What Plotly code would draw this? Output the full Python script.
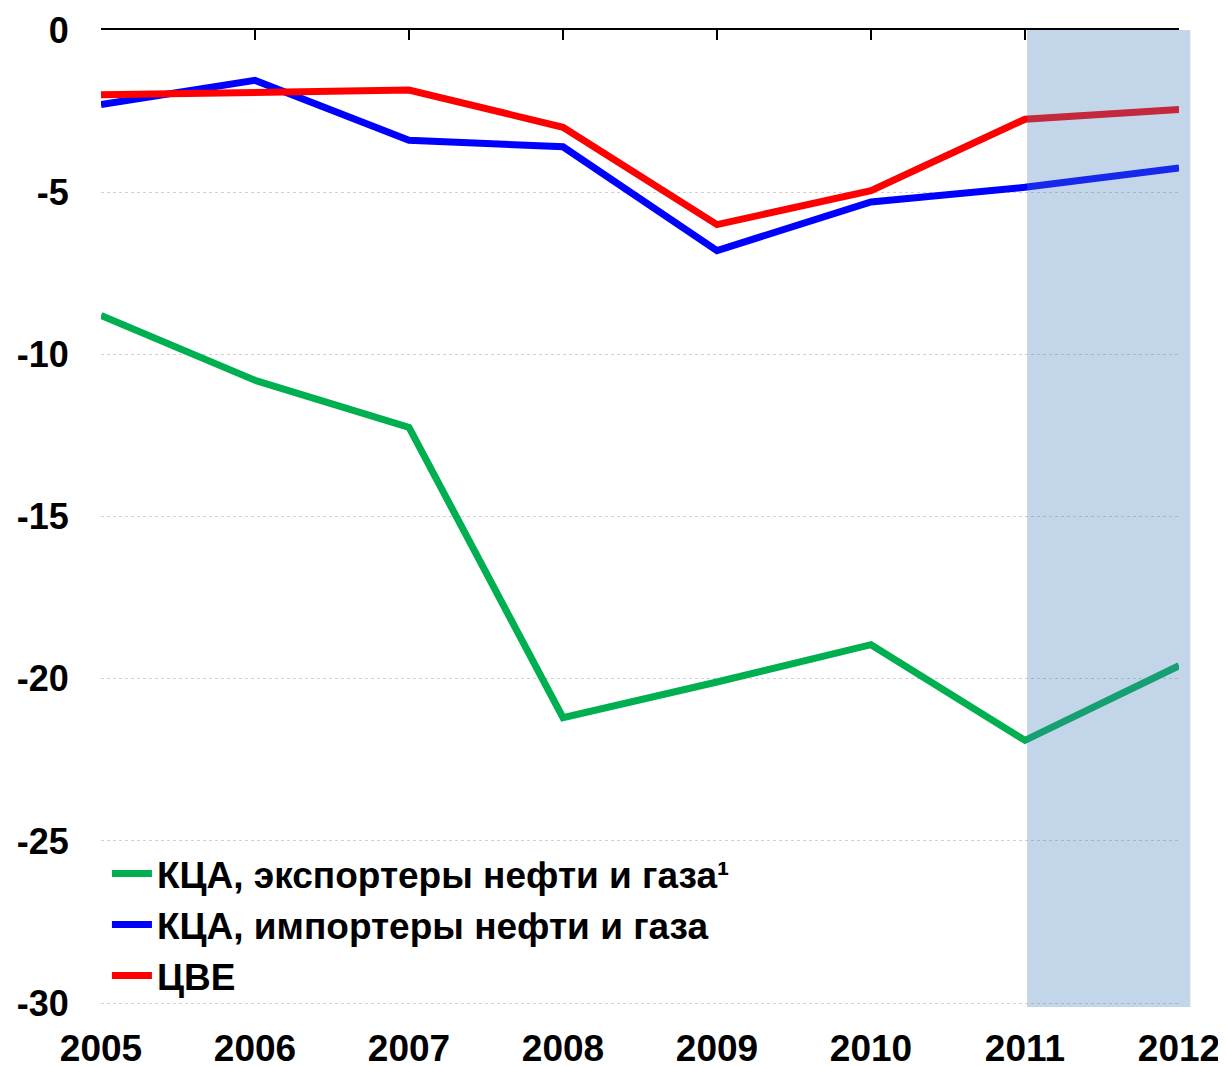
import plotly.graph_objects as go

years = [2005, 2006, 2007, 2008, 2009, 2010, 2011, 2012]
exporters = [-8.8, -10.8, -12.25, -21.2, -20.1, -18.95, -21.9, -19.6]
importers = [-2.3, -1.55, -3.4, -3.6, -6.8, -5.3, -4.85, -4.25]
cee = [-2.0, -1.9, -1.85, -3.0, -6.0, -4.95, -2.75, -2.45]

names = ["КЦА, экспортеры нефти и газа¹", "КЦА, импортеры нефти и газа", "ЦВЕ"]
colors = ["#00b050", "#0000ff", "#ff0000"]
y_ticks = [0, -5, -10, -15, -20, -25, -30]
shade_start = 2011

FONT = "Liberation Sans, Arial, sans-serif"

fig = go.Figure()
for vals, name, col in zip([exporters, importers, cee], names, colors):
    fig.add_trace(go.Scatter(x=years, y=vals, mode="lines", name=name,
                             line=dict(color=col, width=7)))

x0 = (shade_start - years[0]) / (years[-1] - years[0])
fig.add_shape(type="rect", xref="paper", yref="y", x0=x0 + 0.002, x1=1.0105,
              y0=0, y1=-30.12, fillcolor="rgb(68,125,187)", opacity=0.32,
              line=dict(width=0), layer="above")

fig.update_layout(
    width=1218, height=1058,
    margin=dict(l=93, r=47, t=22, b=59),
    plot_bgcolor="white", paper_bgcolor="white",
    font=dict(family=FONT, size=34, color="black"),
    showlegend=True,
    legend=dict(x=0.0055, y=0.168, xanchor="left", yanchor="top",
                bgcolor="rgba(0,0,0,0)", tracegroupgap=0,
                font=dict(family=FONT, size=37, color="black", weight="bold"),
                itemwidth=40),
    xaxis=dict(range=[years[0], years[-1]], tickvals=years,
               ticktext=[str(y) for y in years], automargin=False,
               showgrid=False, zeroline=False, showline=False,
               ticks="outside", ticklen=9, tickcolor="rgba(0,0,0,0)",
               tickfont=dict(family=FONT, size=37, weight="bold")),
    xaxis2=dict(range=[years[0], years[-1]], overlaying="x", side="top",
                tickvals=years, showticklabels=False, showgrid=False,
                automargin=False,
                zeroline=False, showline=True, linecolor="black", linewidth=2,
                ticks="inside", ticklen=10, tickcolor="black", tickwidth=2),
    yaxis=dict(range=[-30.12, 0], tickvals=y_ticks, automargin=False,
               ticktext=[str(v) for v in y_ticks],
               showgrid=True, gridcolor="#d0d0d0", griddash="dot", gridwidth=1,
               zeroline=False, showline=False, ticks="outside", ticklen=24,
               tickcolor="rgba(0,0,0,0)",
               tickfont=dict(family=FONT, size=36, weight="bold")),
)
fig.add_trace(go.Scatter(x=[years[0]], y=[0], xaxis="x2", mode="markers",
                         marker=dict(opacity=0), showlegend=False, hoverinfo="skip"))

fig.write_html("out.html")
